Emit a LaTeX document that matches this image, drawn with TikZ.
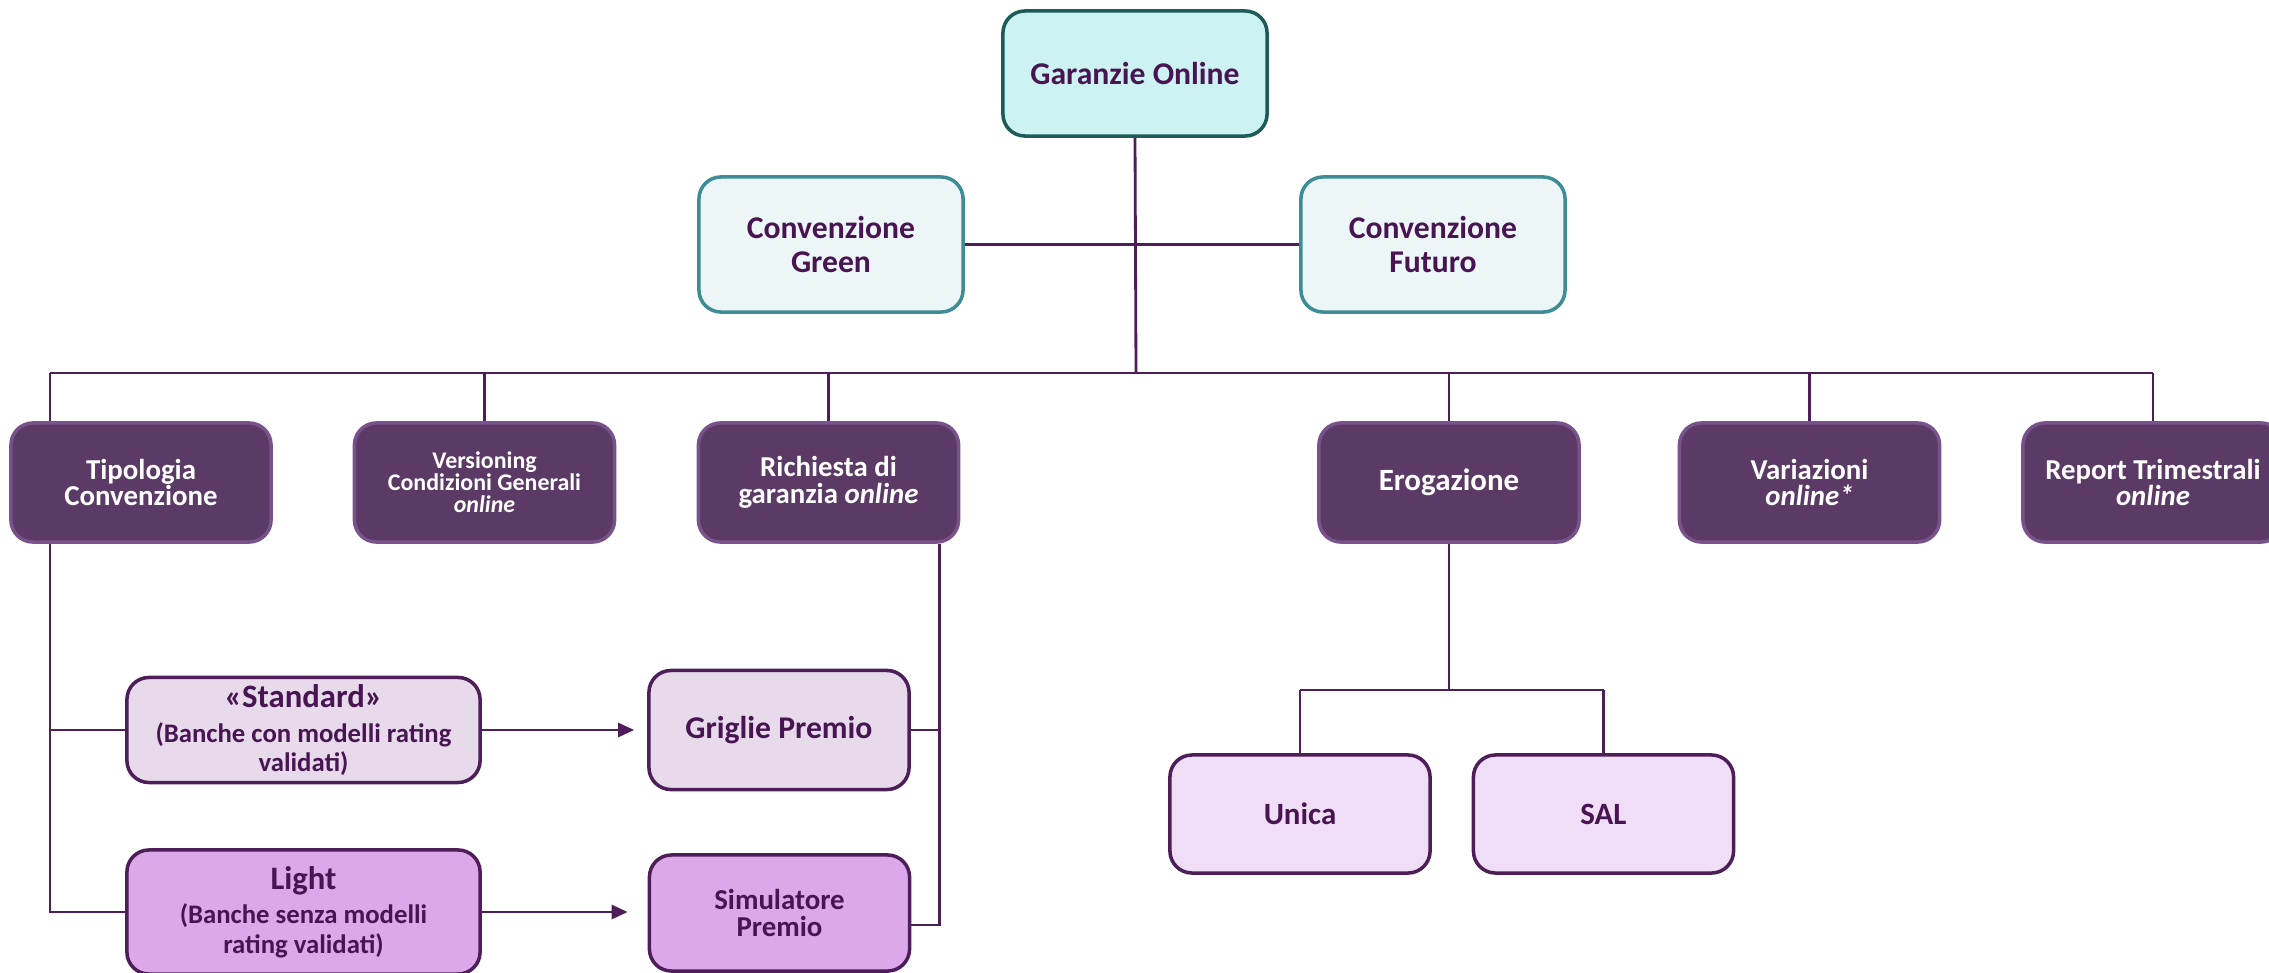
\documentclass[tikz,border=0pt]{standalone}
\usepackage{fontspec}
\setmainfont{Carlito}
\usetikzlibrary{positioning,arrows.meta}

\definecolor{topfill}{RGB}{204,242,241}
\definecolor{topdraw}{RGB}{30,90,88}
\definecolor{convfill}{RGB}{237,246,247}
\definecolor{convdraw}{RGB}{62,140,150}
\definecolor{darkfill}{RGB}{91,58,102}
\definecolor{darkdraw}{RGB}{120,82,138}
\definecolor{txtcol}{RGB}{72,20,82}
\definecolor{linecol}{RGB}{78,30,88}
\definecolor{stdfill}{RGB}{230,218,235}
\definecolor{lightfill}{RGB}{221,168,234}
\definecolor{erofill}{RGB}{240,221,246}

\begin{document}
\begin{tikzpicture}[x=0.01cm, y=-0.01cm,
  every node/.style={rounded corners=2.2mm, align=center, inner sep=1pt, line width=1pt},
  topbox/.style={draw=topdraw, fill=topfill, text=txtcol, minimum width=2.64cm, minimum height=1.25cm, font=\bfseries\fontsize{9}{10}\selectfont},
  convbox/.style={draw=convdraw, fill=convfill, text=txtcol, minimum width=2.64cm, minimum height=1.35cm, font=\bfseries\fontsize{9}{9.8}\selectfont},
  darkbox/.style={draw=darkdraw, fill=darkfill, text=white, minimum width=2.6cm, minimum height=1.19cm, font=\bfseries\fontsize{8.2}{7.6}\selectfont},
  stdbox/.style={draw=linecol, fill=stdfill, text=txtcol, minimum width=3.53cm, minimum height=1.05cm, font=\bfseries\fontsize{7.6}{8.4}\selectfont},
  lightbox/.style={draw=linecol, fill=lightfill, text=txtcol, minimum width=3.53cm, minimum height=1.24cm, font=\bfseries\fontsize{7.6}{8.4}\selectfont},
  erobox/.style={draw=linecol, fill=erofill, text=txtcol, minimum width=2.6cm, minimum height=1.18cm, font=\bfseries\fontsize{8.8}{10}\selectfont},
  link/.style={draw=linecol, line width=0.8pt},
  arr/.style={link, -{Triangle[length=1.6mm, width=1.4mm]}}]

\useasboundingbox (0,0) rectangle (2269,973);

% top of the tree
\node[topbox] (go) at (1135,73.5) {Garanzie Online};
\node[convbox] (green) at (831,244.5) {Convenzione\\Green};
\node[convbox] (futuro) at (1433,244.5) {Convenzione\\Futuro};

% second row
\node[darkbox] (tip) at (141,482.5) {Tipologia\\Convenzione};
\node[darkbox, font=\bfseries\fontsize{6.8}{6.3}\selectfont] (ver) at (484.5,482.5) {Versioning\\Condizioni Generali\\\textit{online}};
\node[darkbox] (ric) at (828.5,482.5) {Richiesta di\\garanzia \textit{online}};
\node[darkbox, font=\bfseries\fontsize{8.8}{10}\selectfont] (ero) at (1449,482.5) {Erogazione};
\node[darkbox] (var) at (1809.5,482.5) {Variazioni\\\textit{online*}};
\node[darkbox] (rep) at (2153,482.5) {Report Trimestrali\\\textit{online}};

% third row
\node[stdbox] (std) at (303.5,730) {{\fontsize{9.3}{10}\selectfont «Standard»}\\[1.5pt](Banche con modelli rating\\validati)};
\node[darkbox, draw=linecol, fill=stdfill, text=txtcol, font=\bfseries\fontsize{9}{10}\selectfont] (gri) at (779,730) {Griglie Premio};
\node[lightbox] (light) at (303.5,912) {{\fontsize{9.3}{10}\selectfont Light}\\[1.5pt](Banche senza modelli\\rating validati)};
\node[darkbox, draw=linecol, fill=lightfill, text=txtcol, minimum height=1.16cm] (sim) at (779.5,913) {Simulatore\\Premio};
\node[erobox] (uni) at (1300,814) {Unica};
\node[erobox] (sal) at (1603.5,814) {SAL};

\coordinate (bus) at (1136,373);
\coordinate (busL) at ([xshift=-0.91cm]tip.south);
\coordinate (ricR) at ([xshift=1.11cm]ric.south);
\coordinate (eroJ) at (1449,690);

\draw[link] (go.south) -- (bus);
\draw[link] (green.east) -- (futuro.west);
\draw[link] (busL |- bus) -- (rep.north |- bus);
\draw[link] (busL |- bus) -- (busL |- tip.north);
\draw[link] (ver.north |- bus) -- (ver.north);
\draw[link] (ric.north |- bus) -- (ric.north);
\draw[link] (ero.north |- bus) -- (ero.north);
\draw[link] (var.north |- bus) -- (var.north);
\draw[link] (rep.north |- bus) -- (rep.north);

\draw[link] (busL) |- (light.west);
\draw[link] (busL |- std.west) -- (std.west);
\draw[link] (ricR) |- ([yshift=-0.12cm]sim.east);
\draw[link] (gri.east) -- (gri.east -| ricR);
\draw[arr, shorten >=1.3mm] (std.east) -- (gri.west);
\draw[arr, shorten >=2mm] (light.east) -- (light.east -| sim.west);

\draw[link] (ero.south) -- (eroJ);
\draw[link] (uni.north |- eroJ) -- (sal.north |- eroJ);
\draw[link] (uni.north |- eroJ) -- (uni.north);
\draw[link] (sal.north |- eroJ) -- (sal.north);

\end{tikzpicture}
\end{document}
